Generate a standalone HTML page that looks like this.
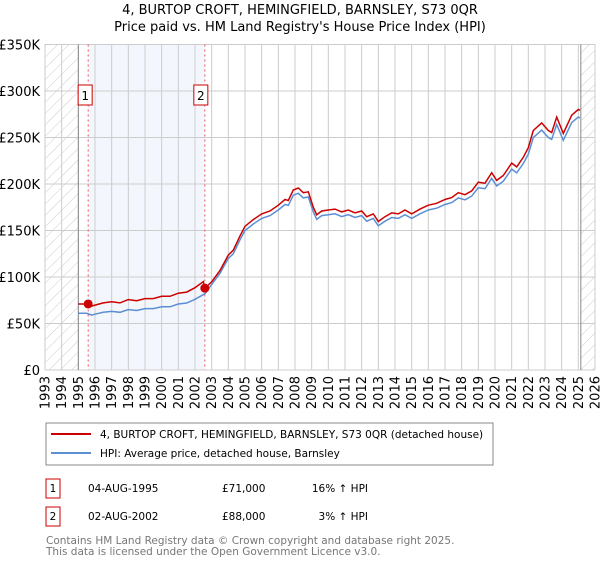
<!DOCTYPE html>
<html><head><meta charset="utf-8"><style>
body{margin:0;background:#fff;font-family:"DejaVu Sans","Liberation Sans",sans-serif;}
svg text{font-family:"DejaVu Sans","Liberation Sans",sans-serif;}
</style></head><body>
<svg id="chart" width="600" height="560" xmlns="http://www.w3.org/2000/svg">
<defs><pattern id="hatch" patternUnits="userSpaceOnUse" width="8" height="8" patternTransform="rotate(45)"><line x1="0" y1="0" x2="0" y2="8" stroke="#ccc" stroke-width="1"/></pattern></defs>
<text x="300" y="14" text-anchor="middle" font-size="13">4, BURTOP CROFT, HEMINGFIELD, BARNSLEY, S73 0QR</text>
<text x="300" y="31" text-anchor="middle" font-size="13">Price paid vs. HM Land Registry's House Price Index (HPI)</text>
<g id="plot"></g>
<g>
<rect x="46" y="423" width="447" height="42" fill="#fff" stroke="#888"/>
<line x1="51" y1="434" x2="91" y2="434" stroke="#cc0000" stroke-width="2"/>
<text x="100" y="438" font-size="10.5">4, BURTOP CROFT, HEMINGFIELD, BARNSLEY, S73 0QR (detached house)</text>
<line x1="51" y1="453" x2="91" y2="453" stroke="#5b8fd4" stroke-width="2"/>
<text x="100" y="457" font-size="10.5">HPI: Average price, detached house, Barnsley</text>
</g>
<g font-size="10.5">
<rect x="46" y="479" width="14" height="19" fill="#fff" stroke="#cc0000"/><text x="53" y="492" text-anchor="middle">1</text>
<text x="88" y="492">04-AUG-1995</text><text x="222" y="492">£71,000</text><text x="368" y="492" text-anchor="end">16% ↑ HPI</text>
<rect x="46" y="507" width="14" height="19" fill="#fff" stroke="#cc0000"/><text x="53" y="520" text-anchor="middle">2</text>
<text x="88" y="520">02-AUG-2002</text><text x="222" y="520">£88,000</text><text x="368" y="520" text-anchor="end">3% ↑ HPI</text>
</g>
<text x="46" y="544" font-size="10.5" fill="#777">Contains HM Land Registry data © Crown copyright and database right 2025.</text>
<text x="46" y="555" font-size="10.5" fill="#777">This data is licensed under the Open Government Licence v3.0.</text>
</svg>
<script>
const hpiDates=[1995.0,1995.5,1995.8,1996.0,1996.5,1997.0,1997.5,1998.0,1998.5,1999.0,1999.5,2000.0,2000.5,2001.0,2001.5,2002.0,2002.6,2003.0,2003.5,2004.0,2004.3,2004.7,2005.0,2005.5,2006.0,2006.5,2007.0,2007.4,2007.6,2007.9,2008.2,2008.5,2008.8,2009.1,2009.3,2009.6,2010.0,2010.4,2010.8,2011.2,2011.6,2012.0,2012.3,2012.7,2013.0,2013.4,2013.8,2014.2,2014.6,2015.0,2015.5,2016.0,2016.5,2017.0,2017.4,2017.8,2018.2,2018.6,2019.0,2019.4,2019.8,2020.1,2020.5,2021.0,2021.3,2021.7,2022.0,2022.3,2022.8,2023.2,2023.4,2023.7,2024.1,2024.6,2025.0,2025.1];
const hpiValues=[61,61,59,60,62,63,62,65,64,66,66,68,68,71,72,76,82,92,104,120,125,140,150,157,163,166,172,178,177,188,190,185,186,170,162,166,167,168,165,167,164,166,160,163,155,160,164,163,167,163,168,172,174,178,180,185,183,187,196,195,206,198,203,216,212,222,232,250,258,250,248,264,247,266,272,271];
const priceDates=[1995.0,1995.5,1995.8,1996.0,1996.5,1997.0,1997.5,1998.0,1998.5,1999.0,1999.5,2000.0,2000.5,2001.0,2001.5,2002.0,2002.5,2002.6,2003.0,2003.5,2004.0,2004.3,2004.7,2005.0,2005.5,2006.0,2006.5,2007.0,2007.4,2007.6,2007.9,2008.2,2008.5,2008.8,2009.1,2009.3,2009.6,2010.0,2010.4,2010.8,2011.2,2011.6,2012.0,2012.3,2012.7,2013.0,2013.4,2013.8,2014.2,2014.6,2015.0,2015.5,2016.0,2016.5,2017.0,2017.4,2017.8,2018.2,2018.6,2019.0,2019.4,2019.8,2020.1,2020.5,2021.0,2021.3,2021.7,2022.0,2022.3,2022.8,2023.2,2023.4,2023.7,2024.1,2024.6,2025.0,2025.1];
const priceValues=[71,71,68.7,69.8,72.2,73.3,72.2,75.7,74.5,76.8,76.8,79.2,79.2,82.6,83.8,88.5,95,88,94.8,107,123.6,128.8,144.2,154.5,161.7,167.9,171,177.2,183.3,182.3,193.6,195.7,190.6,191.6,175.1,166.9,171,172,173,170,172,169,171,164.8,167.9,159.7,164.8,168.9,167.9,172,167.9,173,177.2,179.2,183.3,185.4,190.6,188.5,192.6,201.9,200.9,212.2,203.9,209.1,222.5,218.4,228.7,239,257.5,265.7,257.5,255.4,271.9,254.4,274,280.2,279.1];
const saleDates=[1995.59,2002.59];
const salePrices=[71,88];
const saleLabels=["1","2"];
const yTicks=[0,50,100,150,200,250,300,350];
const yTickLabels=["£0","£50K","£100K","£150K","£200K","£250K","£300K","£350K"];
const xYears=[];for(let y=1993;y<=2026;y++)xYears.push(y);
const dataStart=1995.0,dataEnd=2025.15;

const L=45,R=595,T=44.5,B=370;
const X=t=>L+(t-1993)/(2026-1993)*(R-L);
const Y=v=>B-v/350*(B-T);
const NS="http://www.w3.org/2000/svg";
const g=document.getElementById('plot');
function mk(tag,attrs,parent){const e=document.createElementNS(NS,tag);for(const k in attrs)e.setAttribute(k,attrs[k]);(parent||g).appendChild(e);return e;}

let e;
e=mk('rect',{x:X(saleDates[0]),y:T,width:X(saleDates[1])-X(saleDates[0]),height:B-T,fill:'#eef3fc',opacity:0.7});


e=mk('rect',{x:L,y:T,width:X(dataStart)-L,height:B-T,fill:'url(#hatch)'});


e=mk('rect',{x:X(dataEnd),y:T,width:R-X(dataEnd),height:B-T,fill:'url(#hatch)'});


xYears.forEach(yr=>{
  e=mk('line',{x1:X(yr),x2:X(yr),y1:T,y2:B,stroke:'#ccc','stroke-width':1});
  
  
  const tx=X(yr)+4.5,ty=B+6;
  e=mk('text',{x:tx,y:ty,transform:`rotate(-90 ${tx} ${ty})`,'text-anchor':'end','font-size':13});
  e.textContent=yr;
  
  
});
yTicks.forEach((v,i)=>{
  e=mk('line',{x1:L,x2:R,y1:Y(v),y2:Y(v),stroke:'#ccc','stroke-width':1});
  
  
  e=mk('text',{x:40,y:Y(v)+5,'text-anchor':'end','font-size':13});
  e.textContent=yTickLabels[i];
  
  
});
e=mk('line',{x1:X(dataStart),x2:X(dataStart),y1:T,y2:B,stroke:'#888','stroke-width':1});


e=mk('line',{x1:X(dataEnd),x2:X(dataEnd),y1:T,y2:B,stroke:'#888','stroke-width':1});


saleDates.forEach((d,i)=>{
  e=mk('line',{x1:X(d),x2:X(d),y1:T,y2:B,stroke:'#ee5555','stroke-width':1,'stroke-dasharray':'2,3'});
  
  
  const cx=X(d)-(i==0?3:4);
  e=mk('rect',{x:cx-7,y:85,width:14,height:20,fill:'#fff',stroke:'#cc0000'});
  
  
  e=mk('text',{x:cx,y:100,'text-anchor':'middle','font-size':12});
  e.textContent=saleLabels[i];
  
  
});
function path(ds,vs){return ds.map((d,i)=>(i?'L':'M')+X(d).toFixed(1)+','+Y(vs[i]).toFixed(1)).join('');}
e=mk('path',{d:path(hpiDates,hpiValues),fill:'none',stroke:'#5b8fd4','stroke-width':1.5});


e=mk('path',{d:path(priceDates,priceValues),fill:'none',stroke:'#cc0000','stroke-width':1.5});


saleDates.forEach((d,i)=>{
  e=mk('circle',{cx:X(d),cy:Y(salePrices[i]),r:4.5,fill:'#cc0000'});
  
  
});
</script>
</body></html>
